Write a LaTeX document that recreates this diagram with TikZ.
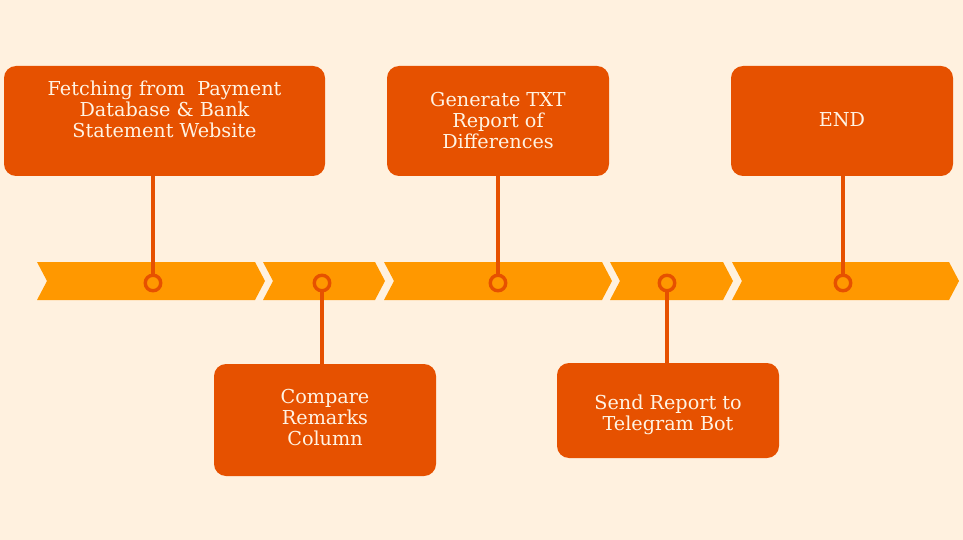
\documentclass[tikz,border=0pt]{standalone}
\usepackage{fontspec}
\setmainfont{DejaVu Serif}
\definecolor{bg}{HTML}{FFF1DF}
\definecolor{boxc}{HTML}{E65100}
\definecolor{barc}{HTML}{FF9800}
\definecolor{txtc}{HTML}{FFF3E3}
\tikzset{
  stepbox/.style={rectangle, rounded corners=12pt, fill=boxc, draw=none,
    minimum width=221pt, inner sep=0pt},
  txt/.style={text=txtc, align=center, font=\fontsize{19.2}{21}\selectfont, inner sep=0pt},
  dot/.style={circle, draw=boxc, line width=3.4pt, fill=barc, minimum size=15.5pt, inner sep=0pt},
  stem/.style={draw=boxc, line width=4pt},
  seg/.style={fill=barc, draw=none}
}
\begin{document}
\begin{tikzpicture}[x=1pt,y=-1pt]
\fill[bg] (0,0) rectangle (963,540);
\useasboundingbox (0,0) rectangle (963,540);
% chevron bar
\foreach \l/\r in {37/255, 263/375, 384/602, 610/723, 732/949}{
  \path[seg] (\l,262) -- (\r,262) -- (\r+10,281) -- (\r,300) -- (\l,300) -- (\l+10,281) -- cycle;
}
% boxes
\node[stepbox, minimum width=321pt, minimum height=110pt] (b1) at (164.5,121) {};
\node[stepbox, minimum width=222pt, minimum height=112pt] (b2) at (325,420) {};
\node[stepbox, minimum width=222pt, minimum height=110pt] (b3) at (498,121) {};
\node[stepbox, minimum width=222pt, minimum height=95pt] (b4) at (668,410.5) {};
\node[stepbox, minimum width=222pt, minimum height=110pt] (b5) at (842,121) {};
% texts
\node[txt] (t1) at (164.5,109) {Fetching from\ \ Payment\\Database \& Bank\\Statement Website};
\node[txt] (t2) at (325,418) {Compare\\Remarks\\Column};
\node[txt] (t3) at (498,121) {Generate TXT\\Report of\\Differences};
\node[txt] (t4) at (668,414.5) {Send Report to\\Telegram Bot};
\node[txt] (t5) at (842,120) {END};
% dots
\node[dot] (c1) at (153,283) {};
\node[dot] (c2) at (322,283) {};
\node[dot] (c3) at (498,283) {};
\node[dot] (c4) at (667,283) {};
\node[dot] (c5) at (843,283) {};
% stems
\draw[stem] (c1.north) -- (c1.north |- b1.south);
\draw[stem] (c3.north) -- (c3.north |- b3.south);
\draw[stem] (c5.north) -- (c5.north |- b5.south);
\draw[stem] (c2.south) -- (c2.south |- b2.north);
\draw[stem] (c4.south) -- (c4.south |- b4.north);
\end{tikzpicture}
\end{document}
